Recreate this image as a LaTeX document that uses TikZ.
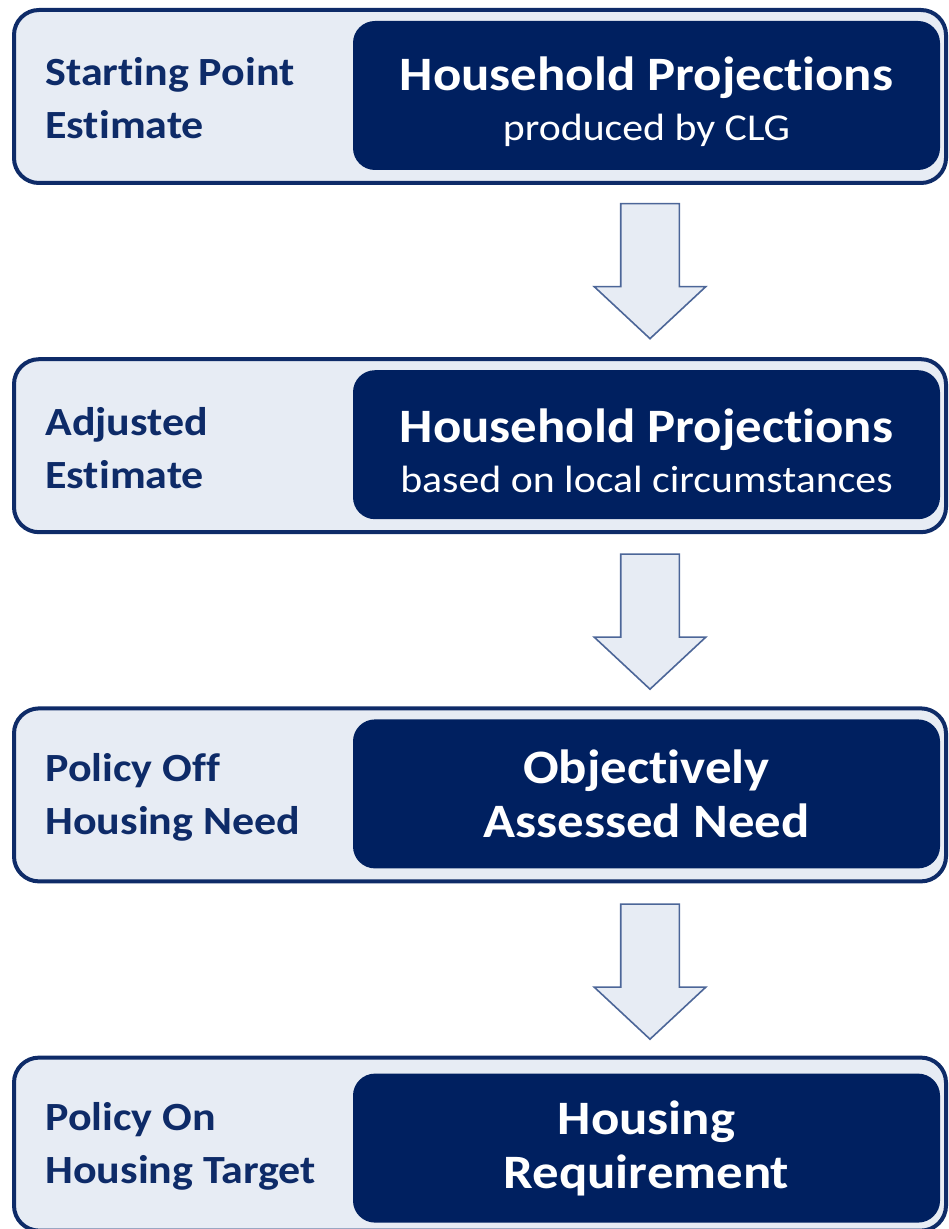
\documentclass[tikz,border=0pt]{standalone}
\usepackage{fontspec}
\setmainfont{Carlito}[FakeStretch=1.1,Ligatures=NoCommon]
\usetikzlibrary{shapes.arrows,positioning}

\definecolor{navy}{HTML}{002060}
\definecolor{edgeblue}{HTML}{0E2B68}
\definecolor{paleblue}{HTML}{E7ECF4}
\definecolor{arrowline}{HTML}{4C6698}

\begin{document}
\begin{tikzpicture}[x=0.5pt,y=-0.5pt,
    stage/.style={draw=edgeblue,line width=2pt,fill=paleblue,rounded corners=12.5pt,
      minimum width=466pt,minimum height=86.5pt,inner sep=0pt},
    proj/.style={fill=navy,rounded corners=11pt,minimum width=293.5pt,minimum height=74.5pt,
      inner sep=0pt,text=white,align=center},
    tag/.style={anchor=west,align=left,text=edgeblue,inner sep=0pt,
      font=\fontsize{20}{26.5}\selectfont\bfseries},
    big/.style={font=\fontsize{24}{27}\selectfont\bfseries},
    downarrow/.style={single arrow,draw=arrowline,fill=paleblue,line width=0.8pt,
      minimum height=67.5pt,minimum width=55pt,single arrow head extend=13.25pt,
      single arrow tip angle=94,inner sep=14.25pt,shape border rotate=270}]
    \useasboundingbox (0,0) rectangle (948,1229);
    % stages
    \node[stage] (est1) at (480,96.5) {};
    \node[stage] (est2) at (480,445.7) {};
    \node[stage] (est3) at (480,794.9) {};
    \node[stage] (est4) at (480,1144.1) {};
    \node[proj] (proj1) at (646.5,95.5) {\rule{0pt}{23pt}{\fontsize{24}{24.5}\selectfont\bfseries Household Projections}\\[6.5pt]{\fontsize{19}{19}\selectfont produced by CLG}};
    \node[proj] (proj2) at (646.5,444.7) {\rule{0pt}{23pt}{\fontsize{24}{24.5}\selectfont\bfseries Household Projections}\\[6.5pt]{\fontsize{19}{19}\selectfont based on local circumstances}};
    \node[proj,big] (proj3) at (646.5,793.9) {Objectively\\Assessed Need};
    \node[proj,big] (proj4) at (646.5,1148.1) {Housing\\Requirement};
    \node[tag] (lab1) at (45,98.5) {Starting Point\\Estimate};
    \node[tag] (lab2) at (45,447.7) {Adjusted\\Estimate};
    \node[tag] (lab3) at (45,796.9) {Policy Off\\Housing Need};
    \node[tag] (lab4) at (45,1146.1) {Policy On\\Housing Target};
    % arrows between stages
    \node[downarrow] (arr1) at (650,257.5) {};
    \node[downarrow] (arr2) at (650,608) {};
    \node[downarrow] (arr3) at (650,958) {};
\end{tikzpicture}
\end{document}
